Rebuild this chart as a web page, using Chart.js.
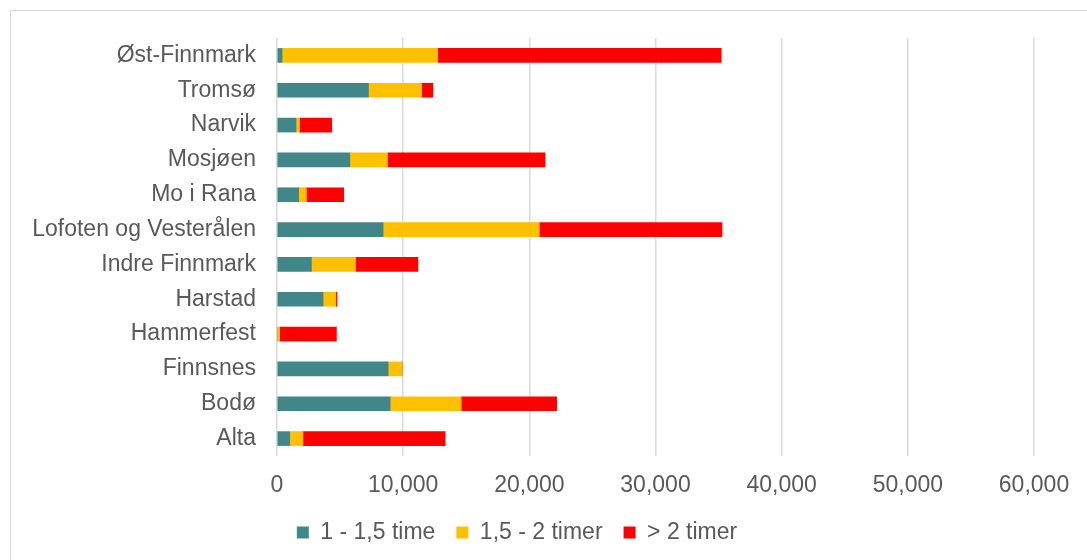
<!DOCTYPE html>
<html>
<head>
    <title>Reisetid</title>
    <script src="https://cdn.jsdelivr.net/npm/chart.js@4.4.0/dist/chart.umd.min.js"></script>
    <style>
        body {
            margin: 0;
            background: #ffffff;
            overflow: hidden;
        }
        .frame {
            position: absolute;
            left: 10px;
            top: 10px;
            width: 1200px;
            height: 700px;
            border: 1.5px solid #d9d9d9;
        }
        .chart-container {
            position: absolute;
            left: 0;
            top: 0;
            width: 1087px;
            height: 560px;
        }
    </style>
</head>
<body>
    <div class="frame"></div>
    <div class="chart-container">
        <canvas id="travelChart"></canvas>
    </div>

    <script>
        // regions, listed top to bottom as in the chart
        const regions = ['Øst-Finnmark', 'Tromsø', 'Narvik', 'Mosjøen', 'Mo i Rana', 'Lofoten og Vesterålen',
            'Indre Finnmark', 'Harstad', 'Hammerfest', 'Finnsnes', 'Bodø', 'Alta'];
        const series1Label = '1 - 1,5 time';
        const series2Label = '1,5 - 2 timer';
        const series3Label = '> 2 timer';
        const series1 = [400, 7250, 1510, 5770, 1720, 8410, 2730, 3650, 0, 8810, 8970, 1010];
        const series2 = [12330, 4210, 270, 2990, 610, 12380, 3490, 1010, 210, 1110, 5630, 1050];
        const series3 = [22480, 900, 2560, 12490, 2960, 14480, 4950, 100, 4500, 0, 7570, 11270];
        const xTicks = [0, 10000, 20000, 30000, 40000, 50000, 60000];

        const textColor = '#595959';
        const font = { family: '"Liberation Sans", Arial, sans-serif', size: 23 };

        new Chart(document.getElementById('travelChart'), {
            type: 'bar',
            data: {
                labels: regions,
                datasets: [
                    { label: series1Label, data: series1, backgroundColor: '#418789', barThickness: 14 },
                    { label: series2Label, data: series2, backgroundColor: '#ffc000', barThickness: 14 },
                    { label: series3Label, data: series3, backgroundColor: '#ff0000', barThickness: 14 }
                ]
            },
            options: {
                indexAxis: 'y',
                responsive: true,
                maintainAspectRatio: false,
                animation: false,
                layout: {
                    padding: { left: 0, right: 53, top: 38, bottom: 6 }
                },
                scales: {
                    x: {
                        stacked: true,
                        min: xTicks[0],
                        max: xTicks[xTicks.length - 1],
                        afterBuildTicks: (scale) => {
                            scale.ticks = xTicks.map(v => ({ value: v }));
                        },
                        afterFit: (scale) => { scale.height = 44; },
                        grid: { color: '#d9d9d9', lineWidth: 1.5, drawTicks: false },
                        border: { display: false },
                        ticks: {
                            color: textColor,
                            font: font,
                            padding: 16,
                            callback: (v) => v.toLocaleString('en-US')
                        }
                    },
                    y: {
                        stacked: true,
                        afterFit: (scale) => { scale.width = 277; },
                        grid: { display: false },
                        border: { display: false },
                        ticks: { color: textColor, font: font, padding: 13 }
                    }
                },
                plugins: {
                    tooltip: { enabled: false },
                    legend: {
                        position: 'bottom',
                        labels: {
                            color: textColor,
                            font: font,
                            boxWidth: 12,
                            boxHeight: 12,
                            padding: 21
                        }
                    }
                }
            }
        });
    </script>
</body>
</html>
